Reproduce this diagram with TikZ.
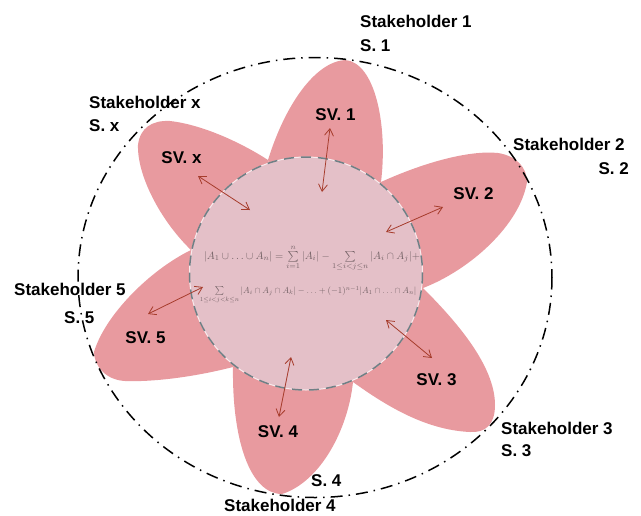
\documentclass[tikz,border=0pt]{standalone}
\usepackage{fontspec}
\usepackage{amsmath}
\setmainfont{Liberation Sans}
\usetikzlibrary{arrows.meta}
\definecolor{petalc}{HTML}{E89A9F}
\definecolor{discc}{HTML}{E4C0C8}
\definecolor{arrowc}{HTML}{A63C2C}
\definecolor{dashc}{HTML}{6F7F85}
\tikzset{
  petal/.style={fill=petalc,draw=none},
  lab/.style={font=\fontsize{17}{19}\selectfont\bfseries,text=black,inner sep=0pt},
  link/.style={draw=arrowc,line width=0.8pt,{Straight Barb[length=7pt,width=9pt]}-{Straight Barb[length=7pt,width=9pt]}},
  bound/.style={draw=black,line width=1.5pt,dash pattern=on 12pt off 6pt on 1.5pt off 6pt},
  formula/.style={text=black!70!discc,opacity=.7,inner sep=0pt,font=\fontsize{10}{12}\selectfont}
}
\begin{document}
\begin{tikzpicture}[x=1pt,y=-1pt]
\useasboundingbox (0,0) rectangle (641,515);
% petals
\path[petal] (268,160) .. controls (285,105) and (315,62) .. (345,60) .. controls (375,62) and (388,125) .. (381,182) -- (306,273) -- cycle;
\path[petal] (381,182) .. controls (425,162) and (470,150) .. (498,153) .. controls (517,156) and (527,168) .. (527,182) .. controls (520,225) and (470,270) .. (423,288) -- (306,273) -- cycle;
\path[petal] (423,288) .. controls (455,320) and (495,365) .. (495,405) .. controls (495,425) and (485,433) .. (470,432) .. controls (425,430) and (385,405) .. (353,382) -- (306,273) -- cycle;
\path[petal] (353,382) .. controls (348,430) and (320,482) .. (282,494) .. controls (250,494) and (232,440) .. (233,367) -- (306,273) -- cycle;
\path[petal] (233,367) .. controls (190,378) and (150,382) .. (125,381) .. controls (105,380) and (94,365) .. (94,352) .. controls (105,315) and (150,270) .. (191,250) -- (306,273) -- cycle;
\path[petal] (191,250) .. controls (160,220) and (137,175) .. (138,145) .. controls (140,128) and (152,120) .. (170,121) .. controls (205,125) and (245,145) .. (268,160) -- (306,273) -- cycle;
% boundary of the stakeholders
\draw[bound] (315,277.5) ellipse [x radius=237, y radius=220];
% centre disc
\node[circle,fill=discc,draw=white!70!discc,line width=1pt,minimum size=233pt,inner sep=0pt] (disc) at (306,273.5) {};
\draw[dashc,line width=1.5pt,dash pattern=on 10pt off 7pt] (306,273.5) circle [radius=116.5];
% formula
\node[formula,anchor=center,scale=1.06] (f1) at (312,258) {$|A_1\cup\ldots\cup A_n|=\sum\limits_{i=1}^{n}|A_i|-\sum\limits_{1\le i<j\le n}|A_i\cap A_j|+$};
\node[formula,anchor=center,scale=.88] (f2) at (308,295) {$\sum\limits_{1\le i<j<k\le n}|A_i\cap A_j\cap A_k|-\ldots+(-1)^{n-1}|A_1\cap\ldots\cap A_n|$};
% arrows
\coordinate (a1) at (330,128); \coordinate (b1) at (322,192);
\coordinate (a2) at (443,207); \coordinate (b2) at (386,232);
\coordinate (a3) at (432,358); \coordinate (b3) at (386,320);
\coordinate (a4) at (279,417); \coordinate (b4) at (291,357);
\coordinate (a5) at (148,314); \coordinate (b5) at (203,287);
\coordinate (ax) at (198,176); \coordinate (bx) at (250,210);
\draw[link] (a1) -- (b1);
\draw[link] (a2) -- (b2);
\draw[link] (a3) -- (b3);
\draw[link] (a4) -- (b4);
\draw[link] (a5) -- (b5);
\draw[link] (ax) -- (bx);
% labels
\node[lab,anchor=west] (s1) at (360,21) {Stakeholder 1};
\node[lab,anchor=west] (t1) at (360,46) {S. 1};
\node[lab,anchor=west] (s2) at (513,144) {Stakeholder 2};
\node[lab,anchor=east] (t2) at (629,169) {S. 2};
\node[lab,anchor=west] (s3) at (501,428) {Stakeholder 3};
\node[lab,anchor=west] (t3) at (501,451) {S. 3};
\node[lab,anchor=west] (s4) at (224,505) {Stakeholder 4};
\node[lab,anchor=west] (t4) at (311,481) {S. 4};
\node[lab,anchor=west] (s5) at (14,289) {Stakeholder 5};
\node[lab,anchor=west] (t5) at (64,318) {S. 5};
\node[lab,anchor=west] (sx) at (89,102) {Stakeholder x};
\node[lab,anchor=west] (tx) at (89,126) {S. x};
\node[lab] (v1) at (335.5,115) {SV. 1};
\node[lab] (v2) at (473.5,194) {SV. 2};
\node[lab] (v3) at (436.5,380) {SV. 3};
\node[lab] (v4) at (278,432) {SV. 4};
\node[lab] (v5) at (145.5,338) {SV. 5};
\node[lab] (vx) at (181.5,158) {SV. x};
\end{tikzpicture}
\end{document}
